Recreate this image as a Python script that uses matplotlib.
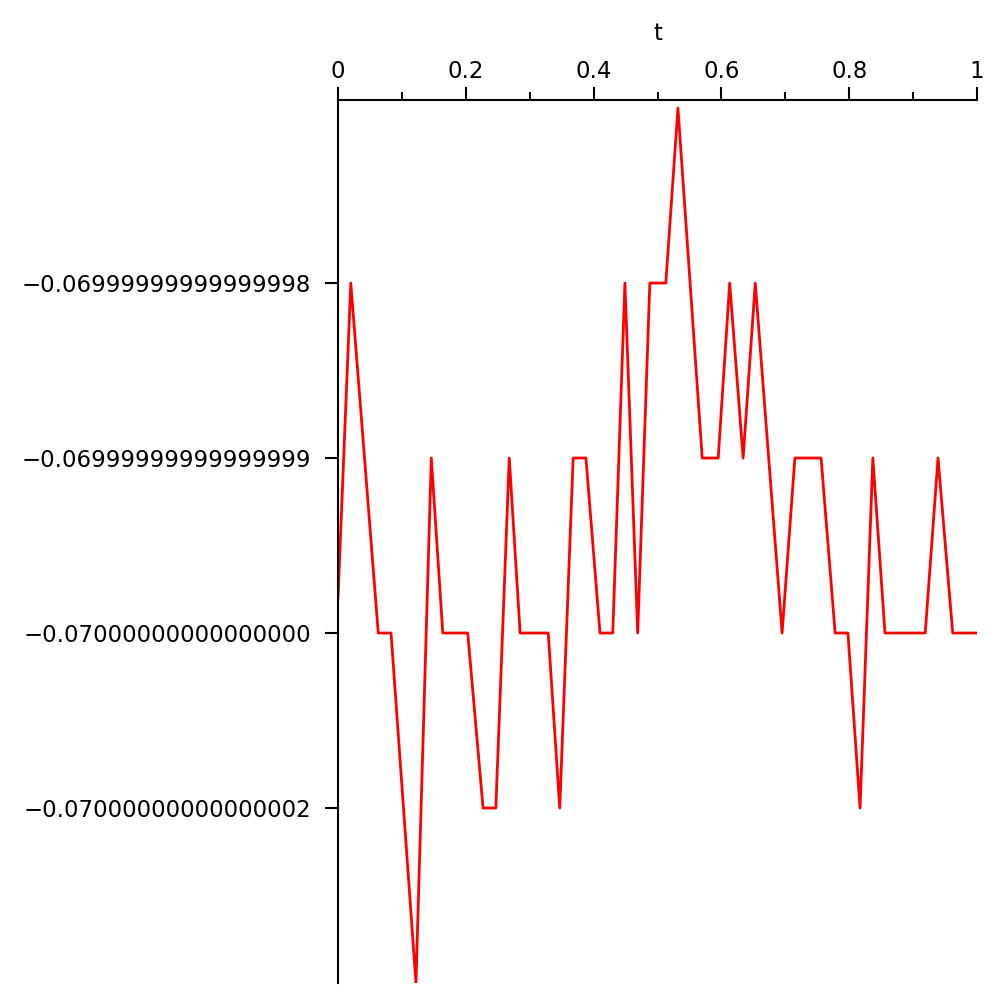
import numpy as np
import matplotlib.pyplot as plt
from matplotlib.ticker import MultipleLocator

# sample points of the curve, t in [0, 1]
t = [0.000, 0.020, 0.063, 0.083, 0.122, 0.146, 0.164, 0.203, 0.227, 0.247,
     0.268, 0.285, 0.329, 0.347, 0.368, 0.388, 0.410, 0.430, 0.449, 0.469,
     0.488, 0.513, 0.532, 0.570, 0.595, 0.613, 0.634, 0.653, 0.695, 0.715,
     0.756, 0.778, 0.798, 0.817, 0.837, 0.856, 0.919, 0.939, 0.962, 1.000]
# y is stored as a level: number of float steps away from -0.07
level = [0.2, 2, 0, 0, -2, 1, 0, 0, -1, -1,
         1, 0, 0, -1, 1, 1, 0, 0, 2, 0,
         2, 2, 3, 1, 1, 2, 1, 2, 0, 1,
         1, 0, 0, -1, 1, 0, 0, 1, 0, 0]

ytick_levels = [2, 1, 0, -1]
ytick_labels = ["\u22120.06999999999999998", "\u22120.06999999999999999",
                "\u22120.07000000000000000", "\u22120.07000000000000002"]
xtick_values = [0, 0.2, 0.4, 0.6, 0.8, 1]
xtick_labels = ["0", "0.2", "0.4", "0.6", "0.8", "1"]

fig = plt.figure(figsize=(10, 10), dpi=100)
ax = fig.add_axes([0.338, 0.017, 0.639, 0.883])

ax.plot(t, level, color="red", linewidth=2)

ax.set_xlim(0, 1)
ax.set_ylim(-2, 3.046)

for side in ["right", "bottom"]:
    ax.spines[side].set_visible(False)
for side in ["left", "top"]:
    ax.spines[side].set_linewidth(1.5)

ax.xaxis.tick_top()
ax.xaxis.set_label_position("top")
ax.set_xticks(xtick_values)
ax.set_xticklabels(xtick_labels, fontsize=16.5)
ax.xaxis.set_minor_locator(MultipleLocator(0.1))
ax.tick_params(axis="x", which="major", direction="out", length=9.5, width=1.5, pad=3)
ax.tick_params(axis="x", which="minor", direction="out", length=6, width=1.5)
ax.set_xlabel("t", fontsize=16.5, labelpad=14)

ax.set_yticks(ytick_levels)
ax.set_yticklabels(ytick_labels, fontsize=16.5)
ax.tick_params(axis="y", direction="out", length=9.5, width=1.5, pad=10)

plt.savefig("out.png", dpi=100)
